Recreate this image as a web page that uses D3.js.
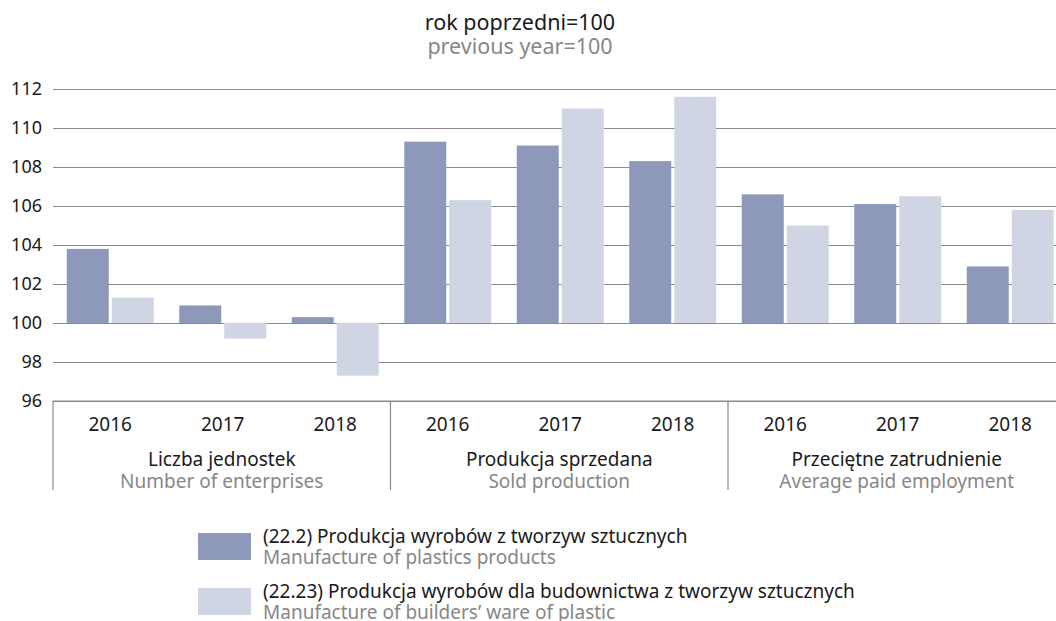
<!DOCTYPE html>
<html>
<head>
<meta charset="utf-8">
<script src="https://cdn.jsdelivr.net/npm/d3@7"></script>
<style>
  body { margin: 0; background: #fff; }
  svg { display: block; font-family: "Noto Sans", sans-serif; }
</style>
</head>
<body>
<div id="chart"></div>
<script>
// data
const years = ['2016', '2017', '2018']
const groupsPl = ['Liczba jednostek', 'Produkcja sprzedana', 'Przeciętne zatrudnienie']
const groupsEn = ['Number of enterprises', 'Sold production', 'Average paid employment']
const plastics = [103.8, 100.9, 100.3, 109.3, 109.1, 108.3, 106.6, 106.1, 102.9]
const builders = [101.3, 99.2, 97.3, 106.3, 111.0, 111.6, 105.0, 106.5, 105.8]
const yTicks = [96, 98, 100, 102, 104, 106, 108, 110, 112]
const seriesPl = ['(22.2) Produkcja wyrobów z tworzyw sztucznych', '(22.23) Produkcja wyrobów dla budownictwa z tworzyw sztucznych']
const seriesEn = ['Manufacture of plastics products', 'Manufacture of builders’ ware of plastic']
const colors = ['#8d98bb', '#cfd5e3']

const W = 1056, H = 621
const plotLeft = 53, plotW = 1012.5
const plotTop = 89, plotBottom = 401
const dark = '#1a1a1a', grey = '#878787', lineCol = '#8a8a8a'

const cats = []
groupsPl.forEach((g, gi) => years.forEach(y => cats.push(gi + '-' + y)))

const x = d3.scaleBand()
  .domain(cats)
  .range([plotLeft + 1, plotLeft + 1 + plotW])
  .paddingInner(0.227)
  .paddingOuter(0.1135)

const x1 = d3.scaleBand()
  .domain([0, 1])
  .range([0, x.bandwidth()])
  .paddingInner(0.067)

const y = d3.scaleLinear()
  .domain([96, 112])
  .range([plotBottom, plotTop])

const svg = d3.select('#chart')
  .append('svg')
  .attr('width', W)
  .attr('height', H)

// title
svg.append('text')
  .attr('x', 520).attr('y', 30)
  .attr('text-anchor', 'middle')
  .style('font-size', '21.5px')
  .attr('fill', dark)
  .text('rok poprzedni=100')
svg.append('text')
  .attr('x', 520).attr('y', 54)
  .attr('text-anchor', 'middle')
  .style('font-size', '21.5px')
  .attr('fill', grey)
  .text('previous year=100')

// gridlines + y labels
const yAxis = svg.append('g')
  .attr('transform', `translate(${plotLeft},0)`)
  .call(d3.axisLeft(y).tickValues(yTicks).tickSize(-(W - plotLeft)).tickPadding(11).tickFormat(d3.format('d')))
yAxis.select('.domain').remove()
yAxis.selectAll('line').attr('stroke', lineCol).attr('stroke-width', 1.2)
yAxis.selectAll('text')
  .style('font-size', '18px')
  .style('font-family', '"Noto Sans", sans-serif')
  .attr('fill', dark)

// bars
const rows = cats.map((c, i) => ({ c: c, vals: [plastics[i], builders[i]] }))
svg.append('g')
  .selectAll('g')
  .data(rows)
  .enter()
  .append('g')
  .attr('transform', d => `translate(${x(d.c)},0)`)
  .selectAll('rect')
  .data(d => d.vals.map((v, k) => ({ v: v, k: k })))
  .enter()
  .append('rect')
  .attr('x', d => x1(d.k))
  .attr('width', x1.bandwidth())
  .attr('y', d => Math.min(y(d.v), y(100)))
  .attr('height', d => Math.abs(y(d.v) - y(100)))
  .attr('fill', d => colors[d.k])

// bottom box with category labels
const boxTop = plotBottom, boxBottom = 490
const groupW = plotW / 3
svg.append('line')
  .attr('x1', plotLeft).attr('x2', W)
  .attr('y1', boxTop).attr('y2', boxTop)
  .attr('stroke', lineCol).attr('stroke-width', 1.2)
for (let gi = 0; gi <= 3; gi++) {
  svg.append('line')
    .attr('x1', plotLeft + gi * groupW).attr('x2', plotLeft + gi * groupW)
    .attr('y1', boxTop).attr('y2', boxBottom)
    .attr('stroke', lineCol).attr('stroke-width', 1.2)
}

svg.append('g').selectAll('text')
  .data(cats)
  .enter()
  .append('text')
  .attr('x', d => x(d) + x.bandwidth() / 2)
  .attr('y', 431)
  .attr('text-anchor', 'middle')
  .style('font-size', '19px')
  .attr('fill', dark)
  .text(d => d.split('-')[1])

groupsPl.forEach((name, gi) => {
  const cx = plotLeft + groupW * (gi + 0.5)
  svg.append('text')
    .attr('x', cx).attr('y', 466)
    .attr('text-anchor', 'middle')
    .style('font-size', '19px')
    .attr('fill', dark)
    .text(name)
  svg.append('text')
    .attr('x', cx).attr('y', 488)
    .attr('text-anchor', 'middle')
    .style('font-size', '19px')
    .attr('fill', grey)
    .text(groupsEn[gi])
})

// legend
const legend = svg.append('g')
seriesPl.forEach((name, k) => {
  const ly = 533 + k * 55
  legend.append('rect')
    .attr('x', 198).attr('y', ly)
    .attr('width', 53).attr('height', 27)
    .attr('fill', colors[k])
  legend.append('text')
    .attr('x', 263).attr('y', ly + 10)
    .style('font-size', '19px')
    .attr('fill', dark)
    .text(name)
  legend.append('text')
    .attr('x', 263).attr('y', ly + 31)
    .style('font-size', '19px')
    .attr('fill', grey)
    .text(seriesEn[k])
})
</script>
</body>
</html>
